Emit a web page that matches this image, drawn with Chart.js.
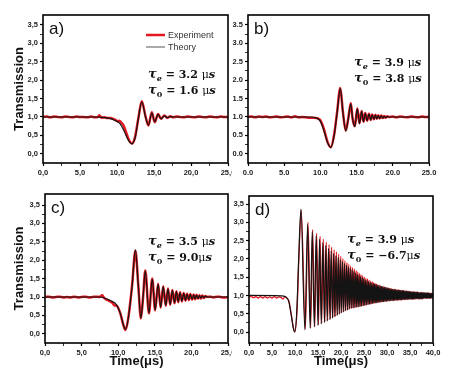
<!DOCTYPE html>
<html lang="en">
<head>
<meta charset="UTF-8">
<title>Transmission vs time</title>
<script src="https://cdn.jsdelivr.net/npm/chart.js"></script>
<style>
  html, body { margin: 0; padding: 0; background: #fff; }
  body { width: 451px; height: 369px; position: relative; overflow: hidden; }
  canvas { position: absolute; display: block; }
</style>
</head>
<body>
<canvas id="pa" width="232" height="185" style="left:0;top:0"></canvas>
<canvas id="pb" width="219" height="185" style="left:232px;top:0"></canvas>
<canvas id="pc" width="232" height="184" style="left:0;top:185px"></canvas>
<canvas id="pd" width="219" height="184" style="left:232px;top:185px"></canvas>
<script>
// ---- data (time in µs, transmission) ----
const letters = ['a)', 'b)', 'c)', 'd)'];
const tauE = ['3.2 ', '3.9 ', '3.5 ', '3.9 '];
const tau0 = ['1.6 ', '3.8 ', '9.0', '\u22126.7'];
const xMaxes = [25, 25, 25, 40];

// a)
const aThT = [0, 7.0, 8.0, 9.0, 9.8, 10.4, 11.0, 11.5, 12.0, 12.5, 12.9, 13.35, 13.85, 14.25, 14.7, 15.1, 15.55, 15.95, 16.4, 16.8, 17.2, 17.7, 25];
const aThV = [1.0, 1.0, 0.99, 0.96, 0.9, 0.82, 0.6, 0.38, 0.27, 0.48, 0.98, 1.41, 1.0, 0.78, 1.11, 0.87, 1.07, 0.95, 1.03, 0.98, 1.01, 1.0, 1.0];
const aExpT = [0, 0.5, 1.0, 1.5, 2.0, 2.5, 3.0, 3.5, 4.0, 4.5, 5.0, 5.5, 6.0, 6.5, 7.0, 7.4, 7.6, 7.9, 8.3, 8.7, 9.1, 9.5, 9.8, 10.1, 10.3, 10.6, 10.9, 11.2, 11.6, 12.0, 12.4, 12.9, 13.35, 13.85, 14.25, 14.7, 15.1, 15.55, 15.95, 16.4, 16.8, 17.2, 17.6, 18.0, 18.5, 19.0, 19.5, 20.0, 20.5, 21.0, 21.5, 22.0, 22.5, 23.0, 23.5, 24.0, 24.5, 25];
const aExpV = [1.0, 1.01, 0.99, 1.01, 1.0, 0.99, 1.01, 1.0, 0.99, 1.01, 1.0, 1.0, 0.99, 1.01, 0.99, 1.0, 1.05, 0.98, 0.99, 0.97, 0.97, 0.95, 0.92, 0.88, 0.9, 0.84, 0.76, 0.6, 0.38, 0.28, 0.42, 0.98, 1.43, 1.02, 0.77, 1.13, 0.86, 1.08, 0.95, 1.04, 0.98, 1.02, 0.99, 1.01, 1.0, 0.99, 1.01, 1.0, 0.99, 1.01, 1.0, 0.99, 1.01, 1.0, 0.99, 1.01, 1.0, 1.0];

// b)
const bThT = [0, 8.5, 9.5, 10.0, 10.5, 11.0, 11.45, 11.9, 12.3, 12.75, 13.1, 13.5, 13.85, 14.2, 14.45, 14.75, 15.1, 15.4, 15.7, 15.95, 16.2, 16.45, 16.7, 16.95, 17.15, 17.4, 17.6, 17.8, 18.0, 18.2, 18.4, 18.6, 18.8, 19.0, 19.2, 19.5, 25];
const bThV = [1.0, 1.0, 0.97, 0.88, 0.62, 0.3, 0.17, 0.5, 1.1, 1.78, 1.15, 0.62, 0.95, 1.36, 0.95, 0.74, 1.22, 0.82, 1.15, 0.87, 1.1, 0.9, 1.08, 0.92, 1.06, 0.94, 1.05, 0.95, 1.04, 0.96, 1.03, 0.97, 1.02, 0.98, 1.01, 1.0, 1.0];
const bExpT = [0, 0.5, 1.0, 1.5, 2.0, 2.5, 3.0, 3.5, 4.0, 4.5, 5.0, 5.5, 6.0, 6.5, 7.0, 7.5, 8.0, 8.5, 9.0, 9.5, 10.0, 10.5, 11.0, 11.45, 11.9, 12.3, 12.75, 13.1, 13.5, 13.85, 14.2, 14.45, 14.75, 15.1, 15.4, 15.7, 15.95, 16.2, 16.45, 16.7, 16.95, 17.15, 17.4, 17.6, 17.8, 18.0, 18.2, 18.4, 18.6, 18.8, 19.0, 19.2, 19.5, 20.0, 20.5, 21.0, 21.5, 22.0, 22.5, 23.0, 23.5, 24.0, 24.5, 25];
const bExpV = [1.0, 1.01, 0.99, 1.01, 1.0, 1.01, 0.99, 1.0, 1.01, 0.99, 1.0, 1.01, 0.99, 1.02, 0.99, 1.0, 0.99, 0.98, 0.98, 0.97, 0.91, 0.66, 0.31, 0.18, 0.52, 1.12, 1.79, 1.15, 0.63, 0.96, 1.37, 0.95, 0.75, 1.23, 0.83, 1.16, 0.87, 1.11, 0.9, 1.09, 0.92, 1.07, 0.94, 1.06, 0.95, 1.05, 0.96, 1.04, 0.97, 1.03, 0.98, 1.02, 1.0, 1.01, 0.99, 1.01, 1.0, 0.99, 1.01, 1.0, 0.99, 1.01, 1.0, 1.0];

// c)
const cThT = [0, 7.5, 8.0, 9.0, 9.8, 10.3, 10.7, 11.0, 11.4, 11.9, 12.35, 12.75, 13.1, 13.4, 13.7, 14.2, 14.65, 15.05, 15.45, 15.8, 16.15, 16.5, 16.8, 17.1, 17.4, 17.7, 17.95, 18.2, 18.45, 18.7, 18.95, 19.2, 19.4, 19.65, 19.85, 20.1, 20.3, 20.5, 20.7, 20.9, 21.1, 21.3, 21.5, 21.7, 21.9, 22.2, 25];
const cThV = [1.0, 1.0, 0.98, 0.9, 0.78, 0.55, 0.25, 0.12, 0.45, 1.3, 2.28, 1.3, 0.43, 1.0, 1.71, 0.57, 1.49, 0.65, 1.35, 0.72, 1.28, 0.77, 1.22, 0.8, 1.18, 0.84, 1.15, 0.87, 1.12, 0.89, 1.1, 0.91, 1.08, 0.93, 1.07, 0.94, 1.06, 0.95, 1.05, 0.96, 1.04, 0.97, 1.03, 0.98, 1.02, 1.0, 1.0];
const cExpT = [0, 0.5, 1.0, 1.5, 2.0, 2.5, 3.0, 3.5, 4.0, 4.5, 5.0, 5.5, 6.0, 6.5, 7.0, 7.5, 7.8, 8.1, 8.5, 8.9, 9.2, 9.5, 9.8, 10.3, 10.7, 11.0, 11.4, 11.9, 12.35, 12.75, 13.1, 13.4, 13.7, 14.2, 14.65, 15.05, 15.45, 15.8, 16.15, 16.5, 16.8, 17.1, 17.4, 17.7, 17.95, 18.2, 18.45, 18.7, 18.95, 19.2, 19.4, 19.65, 19.85, 20.1, 20.3, 20.5, 20.7, 20.9, 21.1, 21.3, 21.5, 21.7, 21.9, 22.2, 22.6, 23.0, 23.5, 24.0, 24.5, 25];
const cExpV = [1.0, 1.01, 0.99, 1.0, 1.01, 0.99, 1.0, 0.99, 1.01, 0.99, 1.0, 1.01, 0.99, 1.0, 1.01, 1.0, 1.05, 0.97, 0.92, 0.88, 0.84, 0.77, 0.76, 0.55, 0.24, 0.1, 0.46, 1.32, 2.26, 1.3, 0.42, 1.0, 1.72, 0.56, 1.5, 0.64, 1.36, 0.71, 1.29, 0.76, 1.23, 0.79, 1.19, 0.83, 1.16, 0.86, 1.13, 0.88, 1.11, 0.9, 1.09, 0.92, 1.08, 0.93, 1.07, 0.94, 1.06, 0.95, 1.05, 0.96, 1.04, 0.97, 1.03, 1.0, 1.01, 0.99, 1.01, 1.0, 0.99, 1.0];

// d) theory: lead-in, peaks, troughs
const dThLeadT = [0, 7.0, 8.0, 8.6, 9.2, 9.6, 10.4, 10.8, 40];
const dThLeadV = [1.0, 0.99, 0.96, 0.85, 0.45, 0.12, 0.6, 2.0, 1.0];
const dThPkT = [11.3, 12.75, 13.75, 14.6, 15.35, 16.05, 16.7, 17.3, 17.85, 18.4, 18.9, 19.4, 19.85, 20.3, 20.75, 21.2, 21.6, 22.0, 22.4, 22.8, 23.2, 23.55, 23.9, 24.25, 24.6, 24.95, 25.3, 25.65, 26.0, 26.35, 26.7, 27.0,
  27.3, 27.6, 27.9, 28.2, 28.5, 28.8, 29.1, 29.4, 29.7, 30.0, 30.3, 30.6, 30.9, 31.2, 31.5, 31.8, 32.1, 32.4, 32.7, 33.0, 33.3, 33.6, 33.9, 34.2, 34.5, 34.8, 35.1, 35.4, 35.7, 36.0, 36.3, 36.6, 36.9, 37.2, 37.5, 37.8, 38.1, 38.4, 38.7, 39.0, 39.3, 39.6, 39.9];
const dThPkV = [3.36, 2.95, 2.75, 2.64, 2.54, 2.45, 2.37, 2.29, 2.22, 2.15, 2.09, 2.04, 1.98, 1.93, 1.88, 1.83, 1.78, 1.74, 1.70, 1.66, 1.62, 1.58, 1.55, 1.52, 1.49, 1.46, 1.43, 1.41, 1.38, 1.36, 1.34, 1.32,
  1.31, 1.30, 1.28, 1.27, 1.26, 1.25, 1.24, 1.23, 1.22, 1.21, 1.20, 1.19, 1.18, 1.17, 1.17, 1.16, 1.15, 1.15, 1.14, 1.14, 1.13, 1.13, 1.12, 1.12, 1.11, 1.11, 1.10, 1.10, 1.10, 1.09, 1.09, 1.09, 1.08, 1.08, 1.08, 1.08, 1.07, 1.07, 1.07, 1.07, 1.06, 1.06, 1.06];
const dThTrT = [9.95, 12.15, 13.3, 14.2, 15.0, 15.7, 16.4, 17.0, 17.6, 18.15, 18.65, 19.15, 19.6, 20.05, 20.5, 20.95, 21.4, 21.8, 22.2, 22.6, 23.0, 23.4, 23.75, 24.1, 24.45, 24.8, 25.15, 25.5, 25.85, 26.2, 26.5, 26.85,
  27.15, 27.45, 27.75, 28.05, 28.35, 28.65, 28.95, 29.25, 29.55, 29.85, 30.15, 30.45, 30.75, 31.05, 31.35, 31.65, 31.95, 32.25, 32.55, 32.85, 33.15, 33.45, 33.75, 34.05, 34.35, 34.65, 34.95, 35.25, 35.55, 35.85, 36.15, 36.45, 36.75, 37.05, 37.35, 37.65, 37.95, 38.25, 38.55, 38.85, 39.15, 39.45, 39.75];
const dThTrV = [0.0, 0.06, 0.10, 0.14, 0.18, 0.22, 0.26, 0.30, 0.34, 0.38, 0.42, 0.45, 0.49, 0.52, 0.55, 0.58, 0.60, 0.63, 0.65, 0.66, 0.67, 0.68, 0.69, 0.70, 0.71, 0.72, 0.73, 0.74, 0.75, 0.76, 0.77, 0.78,
  0.79, 0.80, 0.80, 0.81, 0.82, 0.82, 0.83, 0.83, 0.84, 0.84, 0.85, 0.85, 0.86, 0.86, 0.86, 0.87, 0.87, 0.87, 0.88, 0.88, 0.88, 0.89, 0.89, 0.89, 0.89, 0.90, 0.90, 0.90, 0.90, 0.90, 0.91, 0.91, 0.91, 0.91, 0.91, 0.91, 0.92, 0.92, 0.92, 0.92, 0.92, 0.92, 0.93];

// d) experiment: lead-in, peaks, troughs
const dExpLeadT = [0, 0.5, 1.0, 1.5, 2.0, 2.5, 3.0, 3.5, 4.0, 4.5, 5.0, 5.5, 6.0, 6.5, 7.0, 7.4, 7.8, 8.2, 8.7, 9.2, 9.65, 10.45, 10.85, 40];
const dExpLeadV = [0.97, 0.97, 0.94, 0.97, 0.93, 0.97, 0.93, 0.97, 0.93, 0.96, 0.93, 0.97, 0.93, 0.96, 0.94, 0.9, 0.97, 0.93, 0.84, 0.47, 0.13, 0.62, 2.05, 1.0];
const dExpPkT = [11.35, 12.82, 13.83, 14.7, 15.45, 16.15, 16.8, 17.4, 17.95, 18.5, 19.0, 19.5, 19.95, 20.4, 20.85, 21.3, 21.7, 22.1, 22.5, 22.9, 23.3, 23.65, 24.0, 24.35, 24.7, 25.05, 25.4, 25.75, 26.1, 26.45, 26.8, 27.1,
  27.4, 27.7, 28.0, 28.3, 28.6, 28.9, 29.2, 29.5, 29.8, 30.1, 30.4, 30.7, 31.0, 31.3, 31.6, 31.9, 32.2, 32.5, 32.8, 33.1, 33.4, 33.7, 34.0, 34.3, 34.6, 34.9, 35.2, 35.5, 35.8, 36.1, 36.4, 36.7, 37.0, 37.3, 37.6, 37.9, 38.2, 38.5, 38.8, 39.1, 39.4, 39.7];
const dExpPkV = [3.33, 3.0, 2.8, 2.7, 2.62, 2.54, 2.46, 2.39, 2.32, 2.25, 2.19, 2.13, 2.07, 2.01, 1.95, 1.9, 1.85, 1.8, 1.76, 1.72, 1.68, 1.64, 1.6, 1.57, 1.54, 1.5, 1.47, 1.45, 1.42, 1.39, 1.37, 1.35,
  1.33, 1.31, 1.29, 1.28, 1.26, 1.25, 1.24, 1.23, 1.22, 1.21, 1.20, 1.19, 1.18, 1.17, 1.17, 1.16, 1.15, 1.15, 1.14, 1.14, 1.13, 1.13, 1.12, 1.12, 1.11, 1.11, 1.10, 1.10, 1.10, 1.09, 1.09, 1.09, 1.08, 1.08, 1.08, 1.08, 1.07, 1.07, 1.07, 1.07, 1.06, 1.06];
const dExpTrT = [10.0, 12.25, 13.4, 14.3, 15.1, 15.8, 16.5, 17.1, 17.7, 18.25, 18.75, 19.25, 19.7, 20.15, 20.6, 21.05, 21.5, 21.9, 22.3, 22.7, 23.1, 23.5, 23.85, 24.2, 24.55, 24.9, 25.25, 25.6, 25.95, 26.3, 26.65, 26.95,
  27.25, 27.55, 27.85, 28.15, 28.45, 28.75, 29.05, 29.35, 29.65, 29.95, 30.25, 30.55, 30.85, 31.15, 31.45, 31.75, 32.05, 32.35, 32.65, 32.95, 33.25, 33.55, 33.85, 34.15, 34.45, 34.75, 35.05, 35.35, 35.65, 35.95, 36.25, 36.55, 36.85, 37.15, 37.45, 37.75, 38.05, 38.35, 38.65, 38.95, 39.25, 39.55, 39.85];
const dExpTrV = [0.02, 0.08, 0.12, 0.16, 0.2, 0.24, 0.28, 0.32, 0.36, 0.4, 0.43, 0.47, 0.5, 0.53, 0.56, 0.59, 0.61, 0.63, 0.65, 0.66, 0.67, 0.68, 0.69, 0.7, 0.71, 0.72, 0.73, 0.74, 0.75, 0.76, 0.77, 0.78,
  0.79, 0.80, 0.80, 0.81, 0.82, 0.82, 0.83, 0.83, 0.84, 0.84, 0.85, 0.85, 0.86, 0.86, 0.86, 0.87, 0.87, 0.87, 0.88, 0.88, 0.88, 0.89, 0.89, 0.89, 0.89, 0.90, 0.90, 0.90, 0.90, 0.90, 0.91, 0.91, 0.91, 0.91, 0.91, 0.91, 0.92, 0.92, 0.92, 0.92, 0.92, 0.92, 0.93];

const RED = '#e3171f';
const BLACK = '#141414';

function pts(ts, vs) {
  return ts.map((t, i) => ({ x: t, y: vs[i] }));
}
function merged(...pairs) {
  let out = [];
  for (let i = 0; i < pairs.length; i += 2) out = out.concat(pts(pairs[i], pairs[i + 1]));
  return out.sort((p, q) => p.x - q.x);
}

// τ_e = ... μs, drawn piece by piece
function drawTau(ctx, x, y, sub, subFont, val) {
  const parts = [
    ['\u03c4', 'bold italic 13px "DejaVu Serif"', 0],
    [sub, subFont, 3],
    [' = ' + val, 'bold 11px "DejaVu Serif"', 0],
    ['\u03bc', '11px "DejaVu Serif"', 0],
    ['s', 'bold italic 11.5px "DejaVu Serif"', 0]
  ];
  for (const [t, f, dy] of parts) {
    ctx.font = f;
    ctx.fillText(t, x, y + dy);
    x += ctx.measureText(t).width;
  }
}

const panelNotes = {
  id: 'notes',
  afterDraw(chart, args, o) {
    const { ctx, chartArea: a } = chart;
    ctx.save();
    ctx.strokeStyle = '#000';
    ctx.lineWidth = 1.6;
    ctx.strokeRect(a.left, a.top, a.right - a.left, a.bottom - a.top);
    ctx.fillStyle = '#111';
    ctx.textBaseline = 'alphabetic';
    ctx.font = '17px "Liberation Sans", Arial, sans-serif';
    ctx.fillText(o.letter, a.left + 6, a.top + 19);
    drawTau(ctx, o.tx, o.ty, 'e', 'bold italic 8px "DejaVu Serif"', o.te);
    drawTau(ctx, o.tx, o.ty + 16, '0', 'bold 8px "DejaVu Serif"', o.t0);
    if (o.legend) {
      ctx.lineWidth = 2.5;
      ctx.strokeStyle = RED;
      ctx.beginPath(); ctx.moveTo(146, 35); ctx.lineTo(165, 35); ctx.stroke();
      ctx.lineWidth = 1;
      ctx.strokeStyle = '#555';
      ctx.beginPath(); ctx.moveTo(146, 47); ctx.lineTo(165, 47); ctx.stroke();
      ctx.fillStyle = '#333';
      ctx.font = '9px "Liberation Sans", Arial, sans-serif';
      ctx.fillText('Experiment', 168, 38);
      ctx.fillText('Theory', 168, 50);
    }
    ctx.restore();
  }
};

const tickFont = { family: '"Liberation Sans", Arial, sans-serif', size: 7.5, weight: 'bold' };
const titleFont = { family: '"Liberation Sans", Arial, sans-serif', size: 13, weight: 'bold' };

function near(v, step) {
  return Math.abs(v / step - Math.round(v / step)) < 1e-6;
}

function makePanel(id, p) {
  const fmt = v => v.toFixed(1).replace('.', p.dec);
  const xMax = p.xMax;
  new Chart(document.getElementById(id), {
    type: 'line',
    data: {
      datasets: [
        { label: 'Theory', data: p.th, borderColor: BLACK, borderWidth: p.thW, pointRadius: 0, cubicInterpolationMode: 'monotone', fill: false },
        { label: 'Experiment', data: p.exp, borderColor: RED, borderWidth: p.expW, pointRadius: 0, cubicInterpolationMode: 'monotone', fill: false }
      ]
    },
    options: {
      responsive: false,
      animation: false,
      events: [],
      layout: { padding: p.pad },
      plugins: { legend: { display: false }, tooltip: { enabled: false }, notes: p.notes },
      scales: {
        x: {
          type: 'linear', min: 0, max: xMax,
          border: { display: false },
          grid: {
            drawOnChartArea: false, tickLength: 3,
            tickColor: c => (c.tick && c.tick.value >= -1e-6 && c.tick.value <= xMax + 1e-6) ? '#000' : 'rgba(0,0,0,0)',
            tickWidth: c => (c.tick && near(c.tick.value, 5)) ? 1.2 : 0.8
          },
          ticks: {
            stepSize: 2.5, autoSkip: false, maxRotation: 0, includeBounds: false, padding: 2,
            color: '#222', font: tickFont,
            callback: v => (near(v, 5) && v >= -1e-6 && v <= xMax + 1e-6) ? fmt(v) : ''
          },
          title: { display: p.xTitle, text: 'Time(\u03bcs)', color: '#111', font: titleFont, padding: 0 },
          afterFit: s => { s.height = p.xH; s.paddingLeft = 0; s.paddingRight = 0; }
        },
        y: {
          type: 'linear', min: p.yMin, max: p.yMax,
          border: { display: false },
          grid: {
            drawOnChartArea: false, tickLength: 3,
            tickColor: c => (c.tick && c.tick.value >= -1e-6 && c.tick.value <= 3.5 + 1e-6) ? '#000' : 'rgba(0,0,0,0)',
            tickWidth: c => (c.tick && near(c.tick.value, 0.5)) ? 1.2 : 0.8
          },
          ticks: {
            stepSize: 0.25, autoSkip: false, includeBounds: false, padding: 2,
            color: '#222', font: tickFont,
            callback: v => (near(v, 0.5) && v >= -1e-6 && v <= 3.5 + 1e-6) ? fmt(v) : ''
          },
          title: { display: p.yTitle, text: 'Transmission', color: '#111', font: titleFont, padding: { top: 12, bottom: 0 } },
          afterFit: s => { s.width = p.yW; s.paddingTop = 0; s.paddingBottom = 0; }
        }
      }
    },
    plugins: [panelNotes]
  });
}

makePanel('pa', {
  th: pts(aThT, aThV), exp: pts(aExpT, aExpV), thW: 1.2, expW: 2.5,
  xMax: xMaxes[0], yMin: -0.25, yMax: 3.77, dec: ',',
  pad: { left: 0, right: 4, top: 15, bottom: 0 }, yW: 43, xH: 22, xTitle: false, yTitle: true,
  notes: { letter: letters[0], te: tauE[0], t0: tau0[0], tx: 148, ty: 78, legend: true }
});
makePanel('pb', {
  th: pts(bThT, bThV), exp: pts(bExpT, bExpV), thW: 1.2, expW: 2.5,
  xMax: xMaxes[1], yMin: -0.25, yMax: 3.77, dec: '.',
  pad: { left: 0, right: 22, top: 15, bottom: 0 }, yW: 16, xH: 22, xTitle: false, yTitle: false,
  notes: { letter: letters[1], te: tauE[1], t0: tau0[1], tx: 122, ty: 66, legend: false }
});
makePanel('pc', {
  th: pts(cThT, cThV), exp: pts(cExpT, cExpV), thW: 1.2, expW: 2.5,
  xMax: xMaxes[2], yMin: -0.25, yMax: 3.8, dec: ',',
  pad: { left: 0, right: 4, top: 9, bottom: 0 }, yW: 45, xH: 26, xTitle: true, yTitle: true,
  notes: { letter: letters[2], te: tauE[2], t0: tau0[2], tx: 148, ty: 60, legend: false }
});
makePanel('pd', {
  th: merged(dThLeadT, dThLeadV, dThPkT, dThPkV, dThTrT, dThTrV),
  exp: merged(dExpLeadT, dExpLeadV, dExpPkT, dExpPkV, dExpTrT, dExpTrV),
  thW: 1.2, expW: 1.3,
  xMax: xMaxes[3], yMin: -0.3, yMax: 3.72, dec: ',',
  pad: { left: 0, right: 18, top: 11, bottom: 0 }, yW: 17, xH: 26, xTitle: true, yTitle: false,
  notes: { letter: letters[3], te: tauE[3], t0: tau0[3], tx: 115, ty: 58, legend: false }
});
</script>
</body>
</html>
